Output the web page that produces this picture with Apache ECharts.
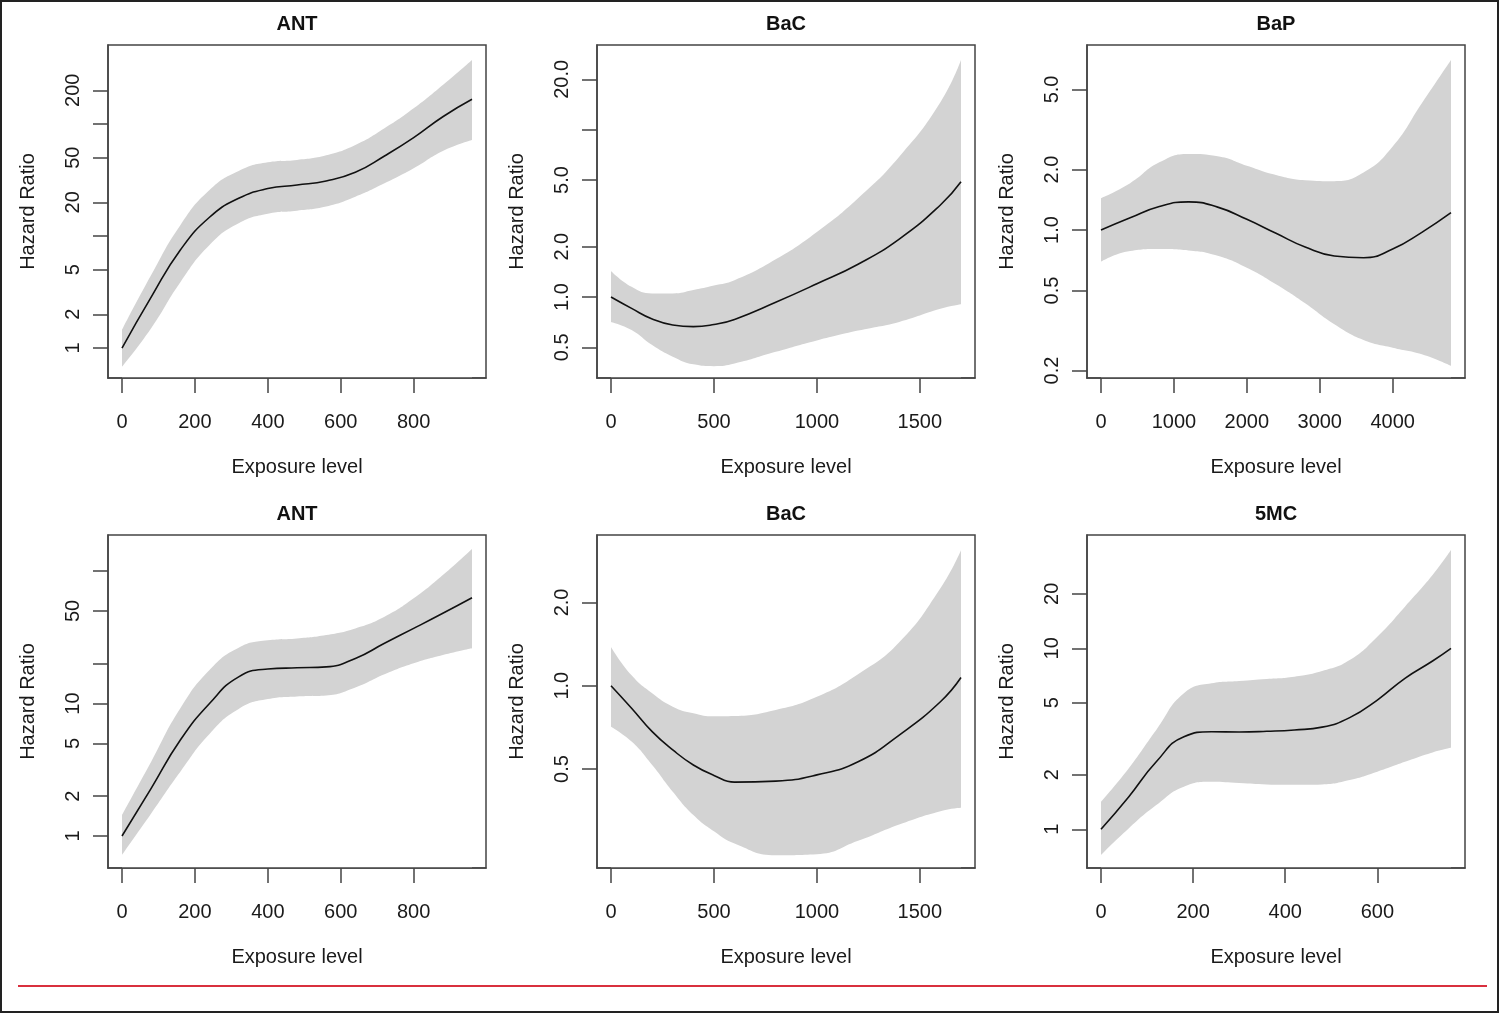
<!DOCTYPE html>
<html><head><meta charset="utf-8">
<script src="https://cdn.jsdelivr.net/npm/echarts@6/dist/echarts.min.js"></script>
<style>html,body{margin:0;padding:0;background:#fff}#c{width:1500px;height:1014px}</style>
</head><body><div id="c"></div>
<script>
// ---------- DATA ----------
const panelTitles = ['ANT', 'BaC', 'BaP', 'ANT', 'BaC', '5MC'];
const xAxisTitle = 'Exposure level';
const yAxisTitle = 'Hazard Ratio';

// Panel A: ANT (top)
const xA  = [0, 80, 160, 240, 320, 400, 480, 560, 640, 720, 800, 880, 960];
const hrA = [1.0, 2.85, 7.5, 14.7, 21.7, 26.5, 28.5, 31.0, 37.0, 51.8, 75.5, 116, 166];
const upA = [1.45, 4.48, 12.5, 25.7, 38.0, 45.5, 47.7, 52.5, 64.9, 91.5, 138, 223, 373];
const loA = [0.68, 1.50, 3.86, 8.3, 13.0, 15.8, 16.8, 18.3, 22.4, 29.5, 40.2, 57.4, 72];
const xTicksA = [0, 200, 400, 600, 800];
const yTicksA = [1, 2, 5, 10, 20, 50, 100, 200];
const yLabelsA = ['1', '2', '5', '', '20', '50', '', '200'];
const yRangeA = [0.540, 507];

// Panel B: BaC (top)
const xB  = [0, 100, 200, 300, 400, 500, 600, 800, 1000, 1200, 1400, 1600, 1700];
const hrB = [1.0, 0.855, 0.739, 0.68, 0.665, 0.685, 0.735, 0.93, 1.20, 1.57, 2.22, 3.55, 4.89];
const upB = [1.43, 1.15, 1.05, 1.05, 1.10, 1.17, 1.26, 1.68, 2.45, 3.90, 6.9, 14.6, 26.1];
const loB = [0.71, 0.635, 0.516, 0.44, 0.396, 0.386, 0.40, 0.47, 0.55, 0.63, 0.71, 0.85, 0.904];
const xTicksB = [0, 500, 1000, 1500];
const yTicksB = [0.5, 1, 2, 5, 10, 20];
const yLabelsB = ['0.5', '1.0', '2.0', '5.0', '', '20.0'];
const yRangeB = [0.328, 32.1];

// Panel C: BaP (top)
const xC  = [0, 400, 800, 1200, 1600, 2000, 2400, 2800, 3200, 3600, 4000, 4400, 4800];
const hrC = [1.0, 1.15, 1.31, 1.38, 1.30, 1.13, 0.963, 0.823, 0.743, 0.728, 0.804, 0.974, 1.22];
const upC = [1.44, 1.71, 2.17, 2.39, 2.33, 2.09, 1.88, 1.77, 1.75, 1.93, 2.60, 4.27, 7.01];
const loC = [0.695, 0.786, 0.804, 0.792, 0.745, 0.649, 0.537, 0.432, 0.340, 0.284, 0.260, 0.241, 0.211];
const xTicksC = [0, 1000, 2000, 3000, 4000];
const yTicksC = [0.2, 0.5, 1, 2, 5];
const yLabelsC = ['0.2', '0.5', '1.0', '2.0', '5.0'];
const yRangeC = [0.1837, 8.32];

// Panel D: ANT (bottom)
const xD  = [0, 80, 160, 240, 320, 400, 480, 560, 640, 720, 800, 880, 960];
const hrD = [1.0, 2.29, 5.30, 10.0, 15.9, 18.2, 18.6, 18.9, 21.9, 28.5, 36.9, 48.0, 62.9];
const upD = [1.44, 3.64, 9.2, 17.9, 26.4, 30.0, 31.0, 32.9, 36.9, 45.2, 62.2, 93.3, 147];
const loD = [0.72, 1.48, 3.06, 5.89, 9.09, 10.8, 11.3, 11.5, 13.2, 16.6, 20.1, 23.2, 26.1];
const xTicksD = [0, 200, 400, 600, 800];
const yTicksD = [1, 2, 5, 10, 20, 50, 100];
const yLabelsD = ['1', '2', '5', '10', '', '50', ''];
const yRangeD = [0.5734, 187.1];

// Panel E: BaC (bottom)
const xE  = [0, 100, 200, 300, 400, 500, 600, 800, 1000, 1200, 1400, 1600, 1700];
const hrE = [1.0, 0.829, 0.682, 0.586, 0.517, 0.474, 0.448, 0.452, 0.476, 0.531, 0.663, 0.875, 1.07];
const upE = [1.38, 1.09, 0.939, 0.84, 0.795, 0.775, 0.777, 0.817, 0.912, 1.10, 1.435, 2.25, 3.09];
const loE = [0.711, 0.628, 0.517, 0.414, 0.341, 0.298, 0.269, 0.244, 0.246, 0.275, 0.315, 0.352, 0.362];
const xTicksE = [0, 500, 1000, 1500];
const yTicksE = [0.5, 1, 2];
const yLabelsE = ['0.5', '1.0', '2.0'];
const yRangeE = [0.2193, 3.505];

// Panel F: 5MC (bottom)
const xF  = [0, 60, 120, 180, 240, 300, 360, 420, 480, 540, 600, 660, 720, 760];
const hrF = [1.0, 1.51, 2.36, 3.25, 3.46, 3.45, 3.48, 3.54, 3.67, 4.14, 5.18, 6.83, 8.51, 10.0];
const upF = [1.42, 2.17, 3.54, 5.64, 6.41, 6.6, 6.77, 6.97, 7.49, 8.62, 11.6, 17.0, 25.4, 34.9];
const loF = [0.721, 1.01, 1.36, 1.72, 1.83, 1.80, 1.77, 1.76, 1.77, 1.87, 2.08, 2.36, 2.66, 2.82];
const xTicksF = [0, 200, 400, 600];
const yTicksF = [1, 2, 5, 10, 20];
const yLabelsF = ['1', '2', '5', '10', '20'];
const yRangeF = [0.611, 42.3];

// ---------- BUILD ----------
const panels = [
  {x: xA, hr: hrA, up: upA, lo: loA, xt: xTicksA, yt: yTicksA, yl: yLabelsA, yr: yRangeA},
  {x: xB, hr: hrB, up: upB, lo: loB, xt: xTicksB, yt: yTicksB, yl: yLabelsB, yr: yRangeB},
  {x: xC, hr: hrC, up: upC, lo: loC, xt: xTicksC, yt: yTicksC, yl: yLabelsC, yr: yRangeC},
  {x: xD, hr: hrD, up: upD, lo: loD, xt: xTicksD, yt: yTicksD, yl: yLabelsD, yr: yRangeD},
  {x: xE, hr: hrE, up: upE, lo: loE, xt: xTicksE, yt: yTicksE, yl: yLabelsE, yr: yRangeE},
  {x: xF, hr: hrF, up: upF, lo: loF, xt: xTicksF, yt: yTicksF, yl: yLabelsF, yr: yRangeF}
];

const FONT = "'Liberation Sans', Arial, Helvetica, sans-serif";
const TXT = '#1a1a1a';
const BOX = '#444';
const BAND = '#d3d3d3';
const boxLeft = [108, 597, 1087];
const boxTop = [45, 535];
const BW = 378, BH = 333;
const SMOOTH = 0.5;
const L10 = Math.log10;

const grids = [], xAxes = [], yAxes = [], series = [], graphics = [];

panels.forEach((p, i) => {
  const col = i % 3, row = Math.floor(i / 3);
  const left = boxLeft[col], top = boxTop[row];
  grids.push({left: left, top: top, width: BW, height: BH, show: true,
    borderColor: BOX, borderWidth: 1.5, backgroundColor: 'transparent',
    outerBoundsMode: 'none', containLabel: false});

  const xmin = Math.min(...p.x), xmax = Math.max(...p.x);
  const ext = 0.04 * (xmax - xmin);
  xAxes.push({
    gridIndex: i, type: 'value', min: xmin - ext, max: xmax + ext, z: 10,
    axisLine: {show: true, onZero: false, lineStyle: {color: BOX, width: 1.5}},
    axisTick: {show: true, customValues: p.xt, length: 15, inside: false, lineStyle: {color: BOX, width: 1.5}},
    axisLabel: {show: true, customValues: p.xt, fontSize: 20, margin: 34, color: TXT, fontFamily: FONT,
      formatter: v => String(Math.round(v))},
    splitLine: {show: false},
    name: xAxisTitle, nameLocation: 'middle', nameGap: 79,
    nameTextStyle: {fontSize: 20, color: TXT, fontFamily: FONT}
  });

  const labelled = p.yt.filter((t, k) => p.yl[k] !== '').map(t => L10(t));
  yAxes.push({
    gridIndex: i, type: 'value', min: L10(p.yr[0]), max: L10(p.yr[1]), z: 10,
    axisLine: {show: true, onZero: false, lineStyle: {color: BOX, width: 1.5}},
    axisTick: {show: true, customValues: p.yt.map(t => L10(t)), length: 15, inside: false, lineStyle: {color: BOX, width: 1.5}},
    axisLabel: {show: true, customValues: labelled, rotate: 90, fontSize: 20, margin: 25, color: TXT, fontFamily: FONT,
      formatter: v => {
        const k = p.yt.findIndex(t => Math.abs(L10(t) - v) < 1e-6);
        return k >= 0 ? p.yl[k] : '';
      }},
    splitLine: {show: false},
    name: yAxisTitle, nameLocation: 'middle', nameGap: 70, nameRotate: 90,
    nameTextStyle: {fontSize: 20, color: TXT, fontFamily: FONT}
  });

  // upper confidence limit: grey fill down to the axis
  series.push({
    type: 'line', xAxisIndex: i, yAxisIndex: i,
    data: p.x.map((x, k) => [x, L10(p.up[k])]),
    smooth: SMOOTH, symbol: 'none', silent: true,
    lineStyle: {width: 0, opacity: 0},
    areaStyle: {color: BAND, opacity: 1, origin: 'start'}, z: 1
  });
  // lower confidence limit: white fill below it, leaving the band
  series.push({
    type: 'line', xAxisIndex: i, yAxisIndex: i,
    data: p.x.map((x, k) => [x, L10(p.lo[k])]),
    smooth: SMOOTH, symbol: 'none', silent: true,
    lineStyle: {width: 0, opacity: 0},
    areaStyle: {color: '#ffffff', opacity: 1, origin: 'start'}, z: 2
  });
  // estimate
  series.push({
    type: 'line', xAxisIndex: i, yAxisIndex: i,
    data: p.x.map((x, k) => [x, L10(p.hr[k])]),
    smooth: SMOOTH, symbol: 'none', silent: true,
    lineStyle: {width: 1.6, color: '#111'}, z: 3
  });

  graphics.push({
    type: 'text', x: left + BW / 2, y: top - 21,
    style: {text: panelTitles[i], fontSize: 20, fontWeight: 'bold', fontFamily: FONT,
      fill: '#111', textAlign: 'center', textVerticalAlign: 'middle', verticalAlign: 'middle'}
  });
});

// frame and red rule
graphics.push({type: 'rect', shape: {x: 1, y: 1, width: 1497, height: 1011},
  style: {fill: 'none', stroke: '#222', lineWidth: 2}});
graphics.push({type: 'line', shape: {x1: 18, y1: 986, x2: 1487, y2: 986},
  style: {stroke: '#d9303e', lineWidth: 2}});

const chart = echarts.init(document.getElementById('c'), null, {renderer: 'canvas'});
chart.setOption({
  animation: false,
  backgroundColor: '#ffffff',
  textStyle: {fontFamily: FONT},
  grid: grids, xAxis: xAxes, yAxis: yAxes, series: series,
  graphic: graphics
});
</script></body></html>
